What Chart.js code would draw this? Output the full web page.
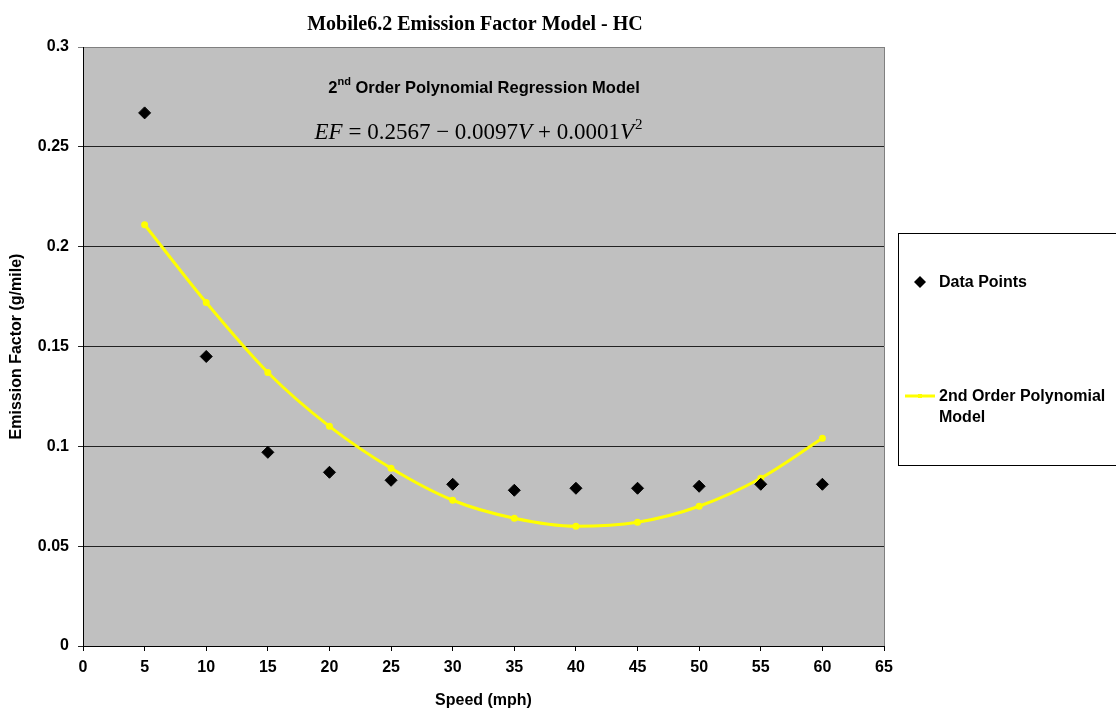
<!DOCTYPE html>
<html>
<head>
<meta charset="utf-8">
<script src="https://cdn.jsdelivr.net/npm/chart.js@4"></script>
<style>
  html, body { margin: 0; padding: 0; background: #fff; }
  #wrap { width: 1116px; height: 710px; }
</style>
</head>
<body>
<div id="wrap"><canvas id="emission-chart" width="1116" height="710"></canvas></div>
<script>
// Chart data
const speeds = [5, 10, 15, 20, 25, 30, 35, 40, 45, 50, 55, 60];
const dataPoints = [0.267, 0.145, 0.097, 0.087, 0.083, 0.081, 0.078, 0.079, 0.079, 0.080, 0.081, 0.081];
const polyModel = [0.211, 0.172, 0.137, 0.110, 0.089, 0.073, 0.064, 0.060, 0.062, 0.070, 0.084, 0.104];
const yTickLabels = ['0', '0.05', '0.1', '0.15', '0.2', '0.25', '0.3'];
const xTickLabels = ['0', '5', '10', '15', '20', '25', '30', '35', '40', '45', '50', '55', '60', '65'];

const seriesNames = ['Data Points', '2nd Order Polynomial Model'];

// gray plot area background + light border on the right
const plotBackground = {
    id: 'plotBackground',
    beforeDraw(chart) {
        const { ctx, chartArea: a } = chart;
        ctx.save();
        ctx.fillStyle = '#c0c0c0';
        ctx.fillRect(a.left, a.top, a.right - a.left, a.bottom - a.top);
        ctx.strokeStyle = '#808080';
        ctx.lineWidth = 1;
        ctx.beginPath();
        ctx.moveTo(Math.round(a.right) + 0.5, a.top);
        ctx.lineTo(Math.round(a.right) + 0.5, a.bottom);
        ctx.stroke();
        ctx.restore();
    }
};

// title, annotation text and legend box
const extras = {
    id: 'extras',
    afterDraw(chart) {
        const ctx = chart.ctx;
        ctx.save();

        // title
        ctx.fillStyle = '#000';
        ctx.font = 'bold 20px "Liberation Serif", "Times New Roman", serif';
        ctx.textAlign = 'center';
        ctx.textBaseline = 'middle';
        ctx.fillText('Mobile6.2 Emission Factor Model - HC', 475, 25);

        // annotation heading with superscript
        ctx.textAlign = 'left';
        ctx.textBaseline = 'alphabetic';
        const headFont = 'bold 16.5px "Liberation Sans", Arial, sans-serif';
        const supFont = 'bold 11px "Liberation Sans", Arial, sans-serif';
        ctx.font = headFont;
        const w2 = ctx.measureText('2').width;
        const rest = ' Order Polynomial Regression Model';
        const wRest = ctx.measureText(rest).width;
        ctx.font = supFont;
        const wSup = ctx.measureText('nd').width;
        let x = 484 - (w2 + wSup + wRest) / 2;
        const baseY = 93;
        ctx.font = headFont;
        ctx.fillText('2', x, baseY);
        x += w2;
        ctx.font = supFont;
        ctx.fillText('nd', x, baseY - 8);
        x += wSup;
        ctx.font = headFont;
        ctx.fillText(rest, x, baseY);

        // equation
        const it = 'italic 23px "Liberation Serif", "Times New Roman", serif';
        const rm = '23px "Liberation Serif", "Times New Roman", serif';
        const parts = [
            [it, 'EF'], [rm, ' = 0.2567 \u2212 0.0097'], [it, 'V'],
            [rm, ' + 0.0001'], [it, 'V']
        ];
        let total = 0;
        parts.forEach(p => { ctx.font = p[0]; total += ctx.measureText(p[1]).width; });
        ctx.font = '15px "Liberation Serif", serif';
        total += ctx.measureText('2').width;
        x = 478 - total / 2;
        const eqY = 139;
        parts.forEach(p => {
            ctx.font = p[0];
            ctx.fillText(p[1], x, eqY);
            x += ctx.measureText(p[1]).width;
        });
        ctx.font = '15px "Liberation Serif", serif';
        ctx.fillText('2', x + 1, eqY - 10);

        // legend box
        ctx.fillStyle = '#fff';
        ctx.fillRect(898, 233, 230, 232);
        ctx.strokeStyle = '#000';
        ctx.lineWidth = 1;
        ctx.strokeRect(898.5, 233.5, 230, 232);

        ctx.fillStyle = '#000';
        ctx.beginPath();
        ctx.moveTo(920, 276);
        ctx.lineTo(926, 282);
        ctx.lineTo(920, 288);
        ctx.lineTo(914, 282);
        ctx.closePath();
        ctx.fill();

        ctx.strokeStyle = '#ffff00';
        ctx.lineWidth = 3;
        ctx.beginPath();
        ctx.moveTo(905, 396);
        ctx.lineTo(935, 396);
        ctx.stroke();
        ctx.fillStyle = '#ffff00';
        ctx.fillRect(918, 394, 4, 4);

        ctx.fillStyle = '#000';
        ctx.font = 'bold 16px "Liberation Sans", Arial, sans-serif';
        ctx.textBaseline = 'middle';
        ctx.fillText(seriesNames[0], 939, 283);
        ctx.fillText('2nd Order Polynomial', 939, 397);
        ctx.fillText('Model', 939, 418);

        ctx.restore();
    }
};

const axisFont = { family: '"Liberation Sans", Arial, sans-serif', size: 16, weight: 'bold' };

window.emissionChart = new Chart(document.getElementById('emission-chart'), {
    type: 'scatter',
    data: {
        datasets: [{
            label: seriesNames[0],
            data: speeds.map((s, i) => ({ x: s, y: dataPoints[i] })),
            pointStyle: 'rectRot',
            pointRadius: 6,
            pointBackgroundColor: '#000',
            pointBorderColor: '#000',
            showLine: false,
            order: 1
        }, {
            label: seriesNames[1],
            data: speeds.map((s, i) => ({ x: s, y: polyModel[i] })),
            showLine: true,
            borderColor: '#ffff00',
            borderWidth: 3,
            pointRadius: 2,
            pointBackgroundColor: '#ffff00',
            pointBorderColor: '#ffff00',
            cubicInterpolationMode: 'monotone',
            order: 2
        }]
    },
    options: {
        responsive: false,
        animation: false,
        layout: { padding: { left: 0, top: 47, right: 232, bottom: 0 } },
        plugins: {
            legend: { display: false },
            tooltip: { enabled: false }
        },
        scales: {
            x: {
                type: 'linear',
                min: 0,
                max: 65,
                afterFit(scale) { scale.height = 64; },
                afterBuildTicks(scale) {
                    scale.ticks = xTickLabels.map(v => ({ value: Number(v) }));
                },
                border: { color: '#000', width: 1 },
                grid: { drawOnChartArea: false, color: '#000', tickLength: 5 },
                ticks: {
                    color: '#000',
                    font: axisFont,
                    padding: 7,
                    maxRotation: 0,
                    callback: (v, i) => xTickLabels[i]
                },
                title: {
                    display: true,
                    text: 'Speed (mph)',
                    color: '#000',
                    font: axisFont,
                    padding: { top: 0, bottom: 0 }
                }
            },
            y: {
                min: 0,
                max: 0.3,
                afterFit(scale) { scale.width = 83; },
                afterBuildTicks(scale) {
                    scale.ticks = yTickLabels.map(v => ({ value: Number(v) }));
                },
                border: { color: '#000', width: 1 },
                grid: {
                    color: ctx => (ctx.tick && ctx.tick.value === 0.3 ? '#808080' : '#222'),
                    lineWidth: 1,
                    tickLength: 5
                },
                ticks: {
                    color: '#000',
                    font: axisFont,
                    padding: 9,
                    callback: (v, i) => yTickLabels[i]
                },
                title: {
                    display: true,
                    text: 'Emission Factor (g/mile)',
                    color: '#000',
                    font: axisFont,
                    padding: { top: 7, bottom: 2 }
                }
            }
        }
    },
    plugins: [plotBackground, extras]
});
</script>
</body>
</html>
